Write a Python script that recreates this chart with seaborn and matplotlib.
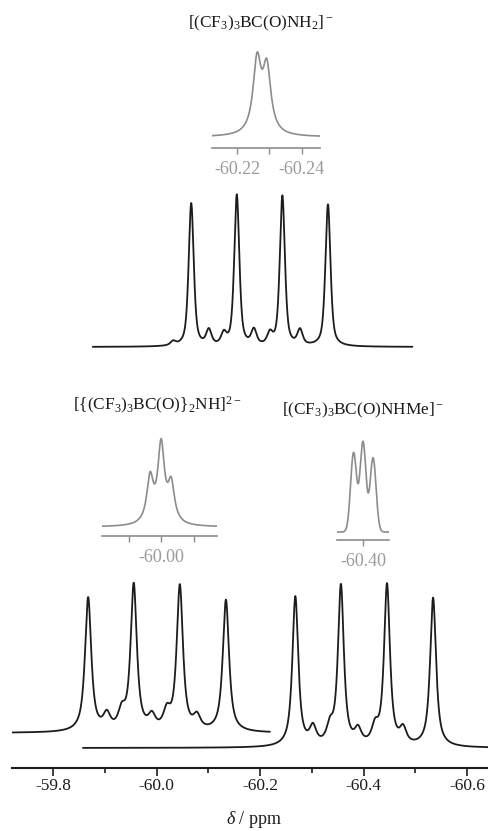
import numpy as np
import pandas as pd
import matplotlib
matplotlib.use("Agg")
import matplotlib.pyplot as plt
import seaborn as sns

# ---------------- data ----------------
# main axis
major_ticks = [-59.8, -60.0, -60.2, -60.4, -60.6]
major_labels = ["-59.8", "-60.0", "-60.2", "-60.4", "-60.6"]
minor_ticks = [-59.9, -60.1, -60.3, -60.5]

# [(CF3)3BC(O)NH2]-  (top spectrum, 11B quartet + 10B satellites)
nh2_line_ppm = [-60.096, -60.184, -60.272, -60.360]
nh2_line_int = [143, 151, 150, 142]
nh2_sat_ppm = [-60.061, -60.130, -60.159, -60.217, -60.248, -60.306]
nh2_sat_int = [4, 15, 11, 15, 11, 15]

# [{(CF3)3BC(O)}2NH]2-  (bottom left)
bis_line_ppm = [-59.868, -59.956, -60.045, -60.134]
bis_line_int = [134, 146, 145, 132]
bis_sat_ppm = [-59.904, -59.933, -59.991, -60.020, -60.078]
bis_sat_int = [15, 17, 13, 17, 13]

# [(CF3)3BC(O)NHMe]-  (bottom right)
nhme_line_ppm = [-60.268, -60.356, -60.445, -60.534]
nhme_line_int = [150, 160, 161, 149]
nhme_sat_ppm = [-60.302, -60.335, -60.389, -60.422, -60.476]
nhme_sat_int = [17, 16, 14, 16, 15]

# insets (11B-decoupled expansions)
nh2_in_ppm = [-60.2262, -60.2292]
nh2_in_int = [72, 64]
nh2_in_ticks = [-60.22, -60.23, -60.24]
nh2_in_labels = ["-60.22", "", "-60.24"]

bis_in_ppm = [-59.9966, -60.0000, -60.0031]
bis_in_int = [45, 78, 38]
bis_in_ticks = [-59.99, -60.00, -60.01]
bis_in_labels = ["", "-60.00", ""]

nhme_in_ppm = [-60.3971, -60.4000, -60.4031]
nhme_in_int = [79, 90, 74]
nhme_in_ticks = [-60.40]
nhme_in_labels = ["-60.40"]

titles = {
    "nh2": r"$[(\mathrm{CF}_3)_3\mathrm{BC(O)NH}_2]^-$",
    "bis": r"$[\{(\mathrm{CF}_3)_3\mathrm{BC(O)}\}_2\mathrm{NH}]^{2-}$",
    "nhme": r"$[(\mathrm{CF}_3)_3\mathrm{BC(O)NHMe}]^-$",
}

# ---------------- style ----------------
sns.set_theme(style="white")
plt.rcParams["font.family"] = ["Liberation Serif", "DejaVu Serif"]
plt.rcParams["mathtext.fontset"] = "custom"
plt.rcParams["mathtext.rm"] = "Liberation Serif"
plt.rcParams["mathtext.it"] = "Liberation Serif:italic"
plt.rcParams["mathtext.bf"] = "Liberation Serif:bold"

BLACK = "#1c1c1c"
GRAY = "#8c8c8c"
LGRAY = "#9a9a9a"

W, H = 488, 831
fig = plt.figure(figsize=(W / 100, H / 100), dpi=100)


def box(x0, y_top, x1, y_bot):
    return [x0 / W, 1 - y_bot / H, (x1 - x0) / W, (y_bot - y_top) / H]


def lineshape(x, centers, heights, hwhm, eta):
    y = np.zeros_like(x)
    for c, h in zip(centers, heights):
        d2 = ((x - c) / hwhm) ** 2
        y += h * (eta / (1 + d2) + (1 - eta) * np.exp(-np.log(2) * d2))
    return y


def trace(ax, x0, x1, groups, offset, color, lw):
    x = np.linspace(x0, x1, 3000)
    y = np.full_like(x, float(offset))
    for centers, heights, hwhm, eta in groups:
        y += lineshape(x, centers, heights, hwhm, eta)
    df = pd.DataFrame({"ppm": x, "I": y})
    sns.lineplot(data=df, x="ppm", y="I", ax=ax, color=color, lw=lw,
                 estimator=None, sort=False)
    ax.set_xlabel("")
    ax.set_ylabel("")


def clean(ax, bottom_spine=False, color=BLACK, lw=1.0):
    for s in ["top", "left", "right"]:
        ax.spines[s].set_visible(False)
    ax.spines["bottom"].set_visible(bottom_spine)
    ax.spines["bottom"].set_color(color)
    ax.spines["bottom"].set_linewidth(lw)
    ax.set_yticks([])
    ax.patch.set_alpha(0)
    if not bottom_spine:
        ax.set_xticks([])


# ---------------- main axes (bottom spectra) ----------------
ax = fig.add_axes(box(12, 568, 488, 768))
trace(ax, -59.721, -60.219,
      [(bis_line_ppm, bis_line_int, 0.0072, 0.85),
       (bis_sat_ppm, bis_sat_int, 0.0080, 0.8)], 35, BLACK, 1.3)
trace(ax, -59.858, -60.640,
      [(nhme_line_ppm, nhme_line_int, 0.0068, 0.85),
       (nhme_sat_ppm, nhme_sat_int, 0.0075, 0.8)], 20, BLACK, 1.3)
ax.set_xlim(-59.721, -60.640)
ax.set_ylim(0, 200)
clean(ax, bottom_spine=True, color=BLACK, lw=1.5)
ax.set_xticks(major_ticks)
ax.set_xticklabels(major_labels)
ax.set_xticks(minor_ticks, minor=True)
ax.tick_params(axis="x", which="major", bottom=True, direction="out",
               length=5.5, width=1.2, color=BLACK, pad=1.5,
               labelsize=12.5, labelcolor=BLACK)
ax.tick_params(axis="x", which="minor", bottom=True, direction="out",
               length=3.5, width=1.2, color=BLACK)
fig.text(254 / W, 1 - 820 / H, r"$\delta$ / ppm", ha="center", va="center",
         fontsize=13, color=BLACK)

# ---------------- top spectrum ----------------
axt = fig.add_axes(box(12, 180, 488, 360))
trace(axt, -59.906, -60.523,
      [(nh2_line_ppm, nh2_line_int, 0.0058, 0.6),
       (nh2_sat_ppm, nh2_sat_int, 0.0060, 0.6)], 13, BLACK, 1.3)
axt.set_xlim(-59.750, -60.669)
axt.set_ylim(0, 180)
clean(axt)


# ---------------- insets ----------------
def inset(rect, xlim, centers, heights, hwhm, eta, offset, ticks, labels):
    a = fig.add_axes(rect)
    trace(a, xlim[0], xlim[1], [(centers, heights, hwhm, eta)], offset,
          GRAY, 1.2)
    a.set_xlim(*xlim)
    a.set_ylim(0, 108)
    clean(a, bottom_spine=True, color=GRAY, lw=1.2)
    a.set_xticks(ticks)
    a.set_xticklabels(labels)
    a.tick_params(axis="x", bottom=True, direction="out", length=4,
                  width=1.0, color=GRAY, pad=5, labelsize=13,
                  labelcolor=LGRAY)
    return a


inset(box(212, 40, 320, 148), (-60.2123, -60.2456), nh2_in_ppm, nh2_in_int,
      0.0015, 1.0, 11, nh2_in_ticks, nh2_in_labels)
inset(box(102, 428, 217, 536), (-59.9818, -60.0172), bis_in_ppm, bis_in_int,
      0.00123, 1.0, 9, bis_in_ticks, bis_in_labels)
inset(box(337, 432, 389, 540), (-60.3920, -60.4080), nhme_in_ppm, nhme_in_int,
      0.00108, 0.0, 8, nhme_in_ticks, nhme_in_labels)

fig.text(261 / W, 1 - 23 / H, titles["nh2"], ha="center", va="center",
         fontsize=12.4, color=BLACK)
fig.text(157 / W, 1 - 405 / H, titles["bis"], ha="center", va="center",
         fontsize=12.4, color=BLACK)
fig.text(363 / W, 1 - 410 / H, titles["nhme"], ha="center", va="center",
         fontsize=12.4, color=BLACK)

fig.savefig("out.png", dpi=100, facecolor="white")
